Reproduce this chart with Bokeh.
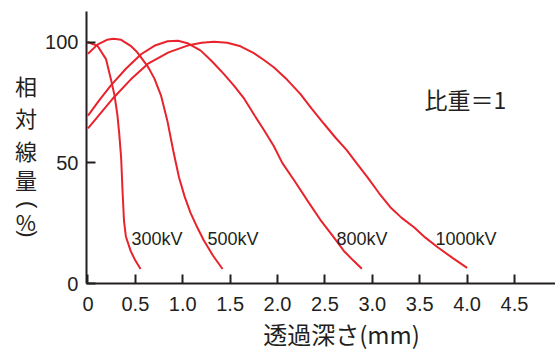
import math
from bokeh.plotting import figure
from bokeh.models import Range1d, FixedTicker, Label
from bokeh.embed import file_html
from bokeh.resources import INLINE

# ---- data ----
x_ticks = [0, 0.5, 1.0, 1.5, 2.0, 2.5, 3.0, 3.5, 4.0, 4.5]
x_tick_labels = ["0", "0.5", "1.0", "1.5", "2.0", "2.5", "3.0", "3.5", "4.0", "4.5"]
y_ticks = [0, 50, 100]
y_tick_labels = ["0", "50", "100"]

kv300_x = [0, 0.10, 0.19, 0.24, 0.28, 0.31, 0.33, 0.35, 0.365, 0.38, 0.40, 0.45, 0.50, 0.555]
kv300_y = [100, 98.5, 93, 85, 78, 70, 62, 52, 38, 26, 19.5, 13.5, 9.5, 6]

kv500_x = [0, 0.10, 0.20, 0.27, 0.35, 0.45, 0.52, 0.63, 0.70, 0.77, 0.84, 0.90, 0.96,
           1.02, 1.08, 1.15, 1.22, 1.32, 1.42]
kv500_y = [95.2, 99, 101, 101.4, 101, 98.5, 95.8, 90, 85, 78, 67, 55, 44,
           36, 29.5, 23.5, 18, 11.5, 6]

kv800_x = [0, 0.12, 0.24, 0.40, 0.56, 0.70, 0.84, 0.95, 1.05, 1.19, 1.31, 1.43, 1.54,
           1.65, 1.76, 1.86, 1.96, 2.05, 2.18, 2.33, 2.45, 2.58, 2.70, 2.80, 2.89]
kv800_y = [69.6, 76, 82, 89, 95, 98.5, 100.4, 100.6, 99.6, 96.5, 92, 87, 82,
           76.5, 69.5, 63.4, 57, 50, 42.5, 33.5, 26.5, 19.8, 13.5, 9.5, 6.1]

kv1000_x = [0, 0.27, 0.45, 0.63, 0.85, 1.05, 1.20, 1.33, 1.47, 1.61, 1.75, 1.86, 1.96,
            2.10, 2.24, 2.36, 2.49, 2.61, 2.73, 2.84, 2.95, 3.07, 3.19, 3.31, 3.44,
            3.56, 3.69, 3.85, 4.0]
kv1000_y = [64.3, 77, 84.5, 91, 95.8, 98.6, 99.8, 100.2, 99.8, 98.3, 95.5, 92.5, 89.6,
            84.5, 78.6, 72.5, 66.2, 60.5, 55.3, 49.6, 44, 37.5, 31.6, 27.2, 23.3,
            19, 15, 10.5, 6.5]

series = [
    ("300kV", kv300_x, kv300_y, 0.459),
    ("500kV", kv500_x, kv500_y, 1.261),
    ("800kV", kv800_x, kv800_y, 2.622),
    ("1000kV", kv1000_x, kv1000_y, 3.667),
]
curve_label_y = 18.6

# y-axis title, written upright top to bottom: 相 対 線 量 ( % )
ylabel_chars = ["相", "対", "線", "量", "(", "%", ")"]
ylabel_y = [82.1, 68.8, 55.5, 43.5, 32.7, 26.1, 20.5]
ylabel_rot = [0, 0, 0, 0, -math.pi / 2, 0, -math.pi / 2]
ylabel_x = [-0.654, -0.654, -0.654, -0.654, -0.632, -0.654, -0.632]

xlabel_text = "透過深さ(mm)"
xlabel_xy = (2.676, -20.8)
note_text = "比重＝1"
note_xy = (3.551, 76.3)

RED = "#e8232b"
INK = "#231f20"
JP = "Noto Sans CJK JP"
LAT = "Liberation Sans"

X0, X1 = -0.016, 4.933      # extent of the drawn x axis
Y0, Y1 = 0, 112.7           # extent of the drawn y axis

p = figure(width=555, height=351, output_backend="svg", toolbar_location=None,
           x_range=Range1d(-0.923, 4.933), y_range=Range1d(-28.18, 117.28),
           min_border_left=0, min_border_right=0, min_border_top=0, min_border_bottom=0)
p.outline_line_color = None
p.grid.visible = False
p.background_fill_color = "white"
p.border_fill_color = "white"

for name, xs, ys, lx in series:
    p.line(xs, ys, line_color=RED, line_width=2)
    p.add_layout(Label(x=lx, y=curve_label_y, text=name, text_font=LAT, text_font_size="18px",
                       text_color=INK, text_align="left", text_baseline="middle"))

for ax in (p.xaxis[0], p.yaxis[0]):
    ax.axis_line_color = INK
    ax.axis_line_width = 2
    ax.major_tick_line_color = INK
    ax.major_tick_line_width = 2
    ax.minor_tick_line_color = None
    ax.major_tick_out = 0
    ax.major_tick_in = 9
    ax.major_label_text_font = LAT
    ax.major_label_text_font_size = "20px"
    ax.major_label_text_color = INK
    ax.major_label_standoff = 8

p.xaxis[0].fixed_location = Y0
p.xaxis[0].bounds = (X0, X1)
p.xaxis[0].major_label_standoff = 13
p.yaxis[0].fixed_location = X0
p.yaxis[0].bounds = (Y0, Y1)

p.xaxis[0].ticker = FixedTicker(ticks=x_ticks)
p.xaxis[0].major_label_overrides = {t: l for t, l in zip(x_ticks, x_tick_labels)}
p.yaxis[0].ticker = FixedTicker(ticks=y_ticks)
p.yaxis[0].major_label_overrides = {t: l for t, l in zip(y_ticks, y_tick_labels)}

for ch, xx, yy, rot in zip(ylabel_chars, ylabel_x, ylabel_y, ylabel_rot):
    p.add_layout(Label(x=xx, y=yy, text=ch, angle=rot,
                       text_font=JP if rot == 0 else LAT, text_font_size="22px",
                       text_color=INK, text_align="center", text_baseline="middle"))

p.add_layout(Label(x=xlabel_xy[0], y=xlabel_xy[1], text=xlabel_text, text_font=JP,
                   text_font_size="24px", text_color=INK, text_align="center",
                   text_baseline="middle"))
p.add_layout(Label(x=note_xy[0], y=note_xy[1], text=note_text, text_font=JP,
                   text_font_size="23px", text_color=INK, text_align="left",
                   text_baseline="middle"))

open("out.html", "w").write(file_html(p, INLINE))
